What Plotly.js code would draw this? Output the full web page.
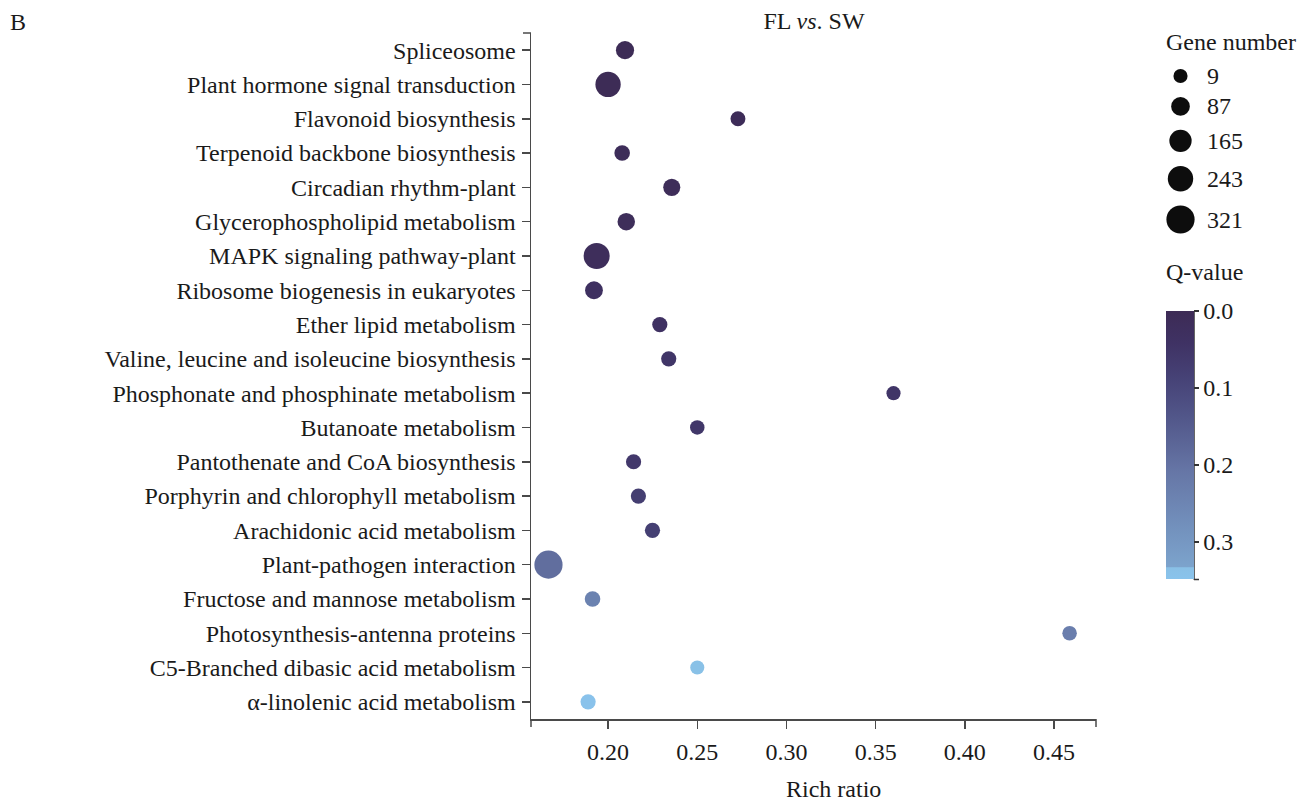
<!DOCTYPE html>
<html>
<head>
<meta charset="utf-8">
<script src="https://cdn.plot.ly/plotly-3.0.1.min.js"></script>
<style>html,body{margin:0;padding:0;background:#fff;}#chart{width:1308px;height:802px;}</style>
</head>
<body>
<div id="chart"></div>
<script>
// ---- data ----
const categories = [
  "Spliceosome",
  "Plant hormone signal transduction",
  "Flavonoid biosynthesis",
  "Terpenoid backbone biosynthesis",
  "Circadian rhythm-plant",
  "Glycerophospholipid metabolism",
  "MAPK signaling pathway-plant",
  "Ribosome biogenesis in eukaryotes",
  "Ether lipid metabolism",
  "Valine, leucine and isoleucine biosynthesis",
  "Phosphonate and phosphinate metabolism",
  "Butanoate metabolism",
  "Pantothenate and CoA biosynthesis",
  "Porphyrin and chlorophyll metabolism",
  "Arachidonic acid metabolism",
  "Plant-pathogen interaction",
  "Fructose and mannose metabolism",
  "Photosynthesis-antenna proteins",
  "C5-Branched dibasic acid metabolism",
  "\u03b1-linolenic acid metabolism"
];
const richRatio = [0.2095, 0.200, 0.2728, 0.2079, 0.2357, 0.2102, 0.1936, 0.1921, 0.229, 0.234,
                   0.360, 0.250, 0.2143, 0.217, 0.2249, 0.1666, 0.1913, 0.4587, 0.250, 0.1888];
const geneNumber = [78, 240, 21, 32, 58, 65, 259, 71, 26, 26,
                    9, 15, 26, 26, 26, 321, 32, 15, 9, 26];
const qValue = [0.003, 0.004, 0.008, 0.01, 0.012, 0.015, 0.018, 0.03, 0.035, 0.05,
                0.05, 0.055, 0.06, 0.075, 0.08, 0.19, 0.24, 0.23, 0.336, 0.345];
const legendGenes = [9, 87, 165, 243, 321];
const xTicks = [0.20, 0.25, 0.30, 0.35, 0.40, 0.45];
const qTicks = [0.0, 0.1, 0.2, 0.3];

// ---- geometry helpers (pixel -> paper) ----
const W = 1308, H = 802;
const px = x => x / W;
const py = y => 1 - y / H;

// size scale (area linear between min and max diameter, like ggplot scale_size)
const gMin = 9, gMax = 321, dMin = 14.1, dMax = 28.2;
const sizeScale = n => Math.sqrt(dMin*dMin + (n - gMin) * (dMax*dMax - dMin*dMin) / (gMax - gMin));

const qMax = 0.348;
const colorscale = [
  [0.00, '#89c3ec'], [0.042, '#89c0e6'], [0.046, '#7ca3cc'],
  [0.20, '#7290bc'], [0.40, '#6676a6'], [0.60, '#52578a'],
  [0.75, '#464276'], [0.88, '#3f3264'], [1.00, '#3d2b55']
];

const FONT = 'Liberation Serif, Times New Roman, serif';
const AX = '#4a4a4a';

const main = {
  type: 'scatter', mode: 'markers',
  x: richRatio, y: categories,
  xaxis: 'x', yaxis: 'y',
  marker: {
    size: geneNumber.map(sizeScale), sizemode: 'diameter',
    color: qValue.map(q => -q), cmin: -qMax, cmax: 0,
    colorscale: colorscale, opacity: 1, line: {width: 0},
    showscale: true,
    colorbar: {
      x: px(1166), xanchor: 'left', xref: 'paper',
      y: py(311), yanchor: 'top', yref: 'paper',
      len: 268, lenmode: 'pixels', thickness: 28, thicknessmode: 'pixels',
      xpad: 0, ypad: 0, outlinewidth: 0,
      tickvals: qTicks.map(v => -v), ticktext: qTicks.map(v => v.toFixed(1)),
      ticks: 'outside', ticklen: 5, tickwidth: 1.5, tickcolor: '#333',
      tickfont: {family: FONT, size: 24, color: '#1a1a1a'}
    }
  },
  hoverinfo: 'x+y'
};

// legend (gene number) drawn on a hidden pixel-unit axis pair
const legendD = legendGenes.map(sizeScale);
const legendY = [];
legendD.forEach((d, i) => {
  legendY.push(i === 0 ? 76 : legendY[i-1] + (legendD[i-1] + d) / 2 + 14);
});
const legendTrace = {
  type: 'scatter', mode: 'markers',
  x: legendGenes.map(() => 1180.5), y: legendY,
  xaxis: 'x2', yaxis: 'y2',
  marker: {size: legendD, sizemode: 'diameter', color: '#0d0d0d', opacity: 1, line: {width: 0}},
  hoverinfo: 'skip', showlegend: false
};

const annotations = [
  {text: 'B', x: px(8), y: py(22), xref: 'paper', yref: 'paper', xanchor: 'left', yanchor: 'middle', showarrow: false, font: {family: FONT, size: 24, color: '#1a1a1a'}},
  {text: 'Rich ratio', x: px(834), y: py(789), xref: 'paper', yref: 'paper', xanchor: 'center', yanchor: 'middle', showarrow: false, font: {family: FONT, size: 24, color: '#1a1a1a'}},
  {text: 'Gene number', x: px(1164), y: py(42), xref: 'paper', yref: 'paper', xanchor: 'left', yanchor: 'middle', showarrow: false, font: {family: FONT, size: 24, color: '#1a1a1a'}},
  {text: 'Q-value', x: px(1164), y: py(272), xref: 'paper', yref: 'paper', xanchor: 'left', yanchor: 'middle', showarrow: false, font: {family: FONT, size: 24, color: '#1a1a1a'}}
].concat(legendGenes.map((g, i) => ({
  text: String(g), x: 1205, y: legendY[i], xref: 'x2', yref: 'y2',
  xanchor: 'left', yanchor: 'middle', showarrow: false,
  font: {family: FONT, size: 24, color: '#1a1a1a'}
})));

const line = (x0, y0, x1, y1) => ({type: 'line', xref: 'paper', yref: 'paper',
  x0: px(x0), y0: py(y0), x1: px(x1), y1: py(y1), line: {color: AX, width: 1.5}});
const shapes = [
  line(531, 719, 531, 727),   // x-axis left end tick
  line(1096, 719, 1096, 727), // x-axis right end tick
  line(523, 33, 531, 33),     // y-axis top end tick
  Object.assign(line(1194, 311, 1194, 579.5), {line: {color: '#333', width: 1.5}}),
  Object.assign(line(1194, 579.5, 1199, 579.5), {line: {color: '#333', width: 1.5}})
];

const layout = {
  width: W, height: H,
  margin: {l: 0, r: 0, t: 0, b: 0, autoexpand: false},
  paper_bgcolor: '#ffffff', plot_bgcolor: '#ffffff',
  font: {family: FONT, size: 24, color: '#1a1a1a'},
  showlegend: false,
  title: {text: 'FL <i>vs</i>. SW', x: px(814), xref: 'paper', xanchor: 'center',
          y: py(21), yref: 'container', yanchor: 'middle',
          font: {family: FONT, size: 24, color: '#1a1a1a'}},
  xaxis: {
    domain: [px(531), px(1096)], range: [0.1568, 0.4735],
    tickvals: xTicks, ticktext: xTicks.map(v => v.toFixed(2)),
    ticks: 'outside', ticklen: 8, tickwidth: 1.5, tickcolor: AX,
    showline: true, linecolor: AX, linewidth: 1.5,
    showgrid: false, zeroline: false, automargin: false,
    tickfont: {family: FONT, size: 24, color: '#1a1a1a'},
    ticklabelstandoff: 3
  },
  yaxis: {
    domain: [py(719), py(33)], type: 'category',
    categoryorder: 'array', categoryarray: categories,
    range: [categories.length - 0.5, -0.5],
    ticks: 'outside', ticklen: 8, tickwidth: 1.5, tickcolor: AX,
    showline: true, linecolor: AX, linewidth: 1.5,
    showgrid: false, zeroline: false, automargin: false,
    tickfont: {family: FONT, size: 24, color: '#1a1a1a'},
    ticklabelstandoff: 1
  },
  xaxis2: {domain: [px(1150), px(1300)], range: [1150, 1300], visible: false, anchor: 'y2', fixedrange: true},
  yaxis2: {domain: [py(250), py(55)], range: [250, 55], visible: false, anchor: 'x2', fixedrange: true},
  annotations: annotations,
  shapes: shapes
};

Plotly.newPlot('chart', [main, legendTrace], layout, {displayModeBar: false, staticPlot: true});
</script>
</body>
</html>
